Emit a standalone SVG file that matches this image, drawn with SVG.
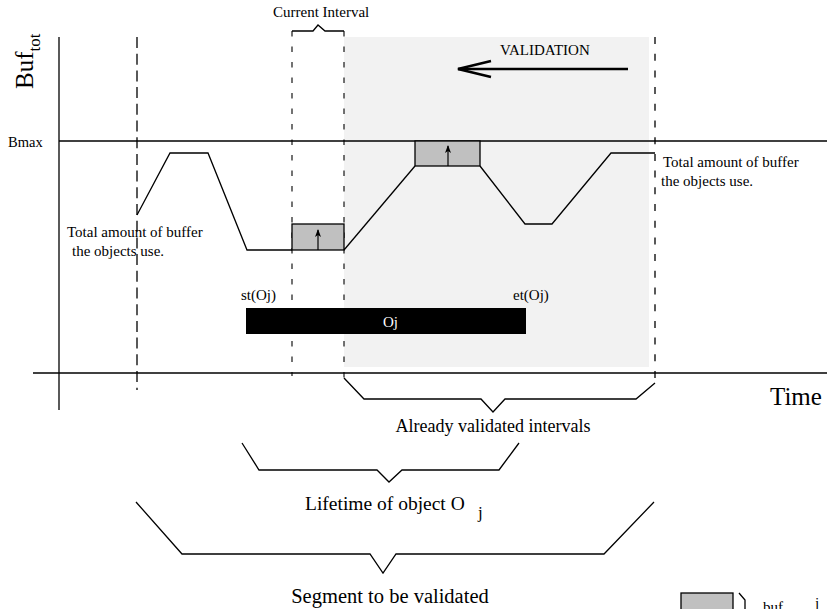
<svg xmlns="http://www.w3.org/2000/svg" width="827" height="609" viewBox="0 0 827 609">
<style>
.ln{stroke:#000;stroke-width:1.3;fill:none}
.d1{stroke:#000;stroke-width:1.3;fill:none;stroke-dasharray:11 5.7}
.d2{stroke:#000;stroke-width:1.1;fill:none;stroke-dasharray:5.5 10}
.d3{stroke:#000;stroke-width:1.3;fill:none;stroke-dasharray:7 9.7}
.box{fill:#c0c0c0;stroke:#000;stroke-width:1.3}
text{font-family:"Liberation Serif","Times New Roman",serif;fill:#000}
.t15{font-size:15px}
</style>
<defs>
<marker id="ah" viewBox="0 0 8 10" refX="7" refY="5" markerWidth="8" markerHeight="10" markerUnits="userSpaceOnUse" orient="auto">
<path d="M0,2 L8,5 L0,8 L2,5 Z" fill="#000"/>
</marker>
</defs>
<g id="validated-region">
<rect x="344" y="37" width="305" height="330" fill="#f2f2f2"/>
</g>
<g id="axes">
<line class="ln" x1="59" y1="37" x2="59" y2="410"/>
<line class="ln" x1="33" y1="373" x2="827" y2="373"/>
<line class="ln" x1="59" y1="141" x2="827" y2="141"/>
<text x="8" y="147" style="font-size:14.5px">Bmax</text>
<text transform="translate(33,89) rotate(-90)" style="font-size:25px">Buf<tspan dy="7" style="font-size:17px">tot</tspan></text>
<text x="770" y="405" style="font-size:25px">Time</text>
</g>
<g id="intervals">
<line class="d1" x1="137" y1="37" x2="137" y2="390"/>
<line class="d2" x1="292" y1="31" x2="292" y2="376"/>
<line class="d2" x1="344" y1="31" x2="344" y2="378"/>
<line class="d3" x1="655" y1="37" x2="655" y2="383"/>
</g>
<g id="current-interval">
<polyline class="ln" points="292,31 313,31 318,25 325,31 344,31"/>
<text class="t15" x="273" y="17">Current Interval</text>
</g>
<g id="validation-arrow">
<line x1="628" y1="69" x2="458" y2="69" stroke="#000" stroke-width="2.6"/>
<polyline points="491,61 458,69 491,77" fill="none" stroke="#000" stroke-width="2.6"/>
<text class="t15" x="500" y="55">VALIDATION</text>
</g>
<g id="buffer-curve">
<polyline class="ln" points="137,215 170,153 208,153 247,250 292,250"/>
<rect id="buf-box-1" class="box" x="292" y="224" width="52" height="26"/>
<line x1="318" y1="250" x2="318" y2="230" stroke="#000" stroke-width="1.2" marker-end="url(#ah)"/>
<polyline class="ln" points="344,250 415,166"/>
<rect id="buf-box-2" class="box" x="415" y="141" width="65" height="25"/>
<line x1="448" y1="166" x2="448" y2="146" stroke="#000" stroke-width="1.2" marker-end="url(#ah)"/>
<polyline class="ln" points="480,166 525,224 552,224 611,153 655,153"/>
</g>
<g id="labels-buffer">
<text class="t15" x="67" y="237">Total amount of buffer</text>
<text class="t15" x="72" y="256">the objects use.</text>
<text class="t15" x="663" y="167">Total amount of buffer</text>
<text class="t15" x="661" y="186">the objects use.</text>
</g>
<g id="object-oj">
<rect x="246" y="308" width="280" height="26" fill="#000"/>
<text class="t15" x="390.5" y="327" text-anchor="middle" style="fill:#fff">Oj</text>
<text class="t15" x="241" y="300">st(Oj)</text>
<text class="t15" x="513" y="300">et(Oj)</text>
</g>
<g id="connectors">
<polyline class="ln" points="344,378 364,399 481,399 493,412 505,399 636,399 655,383"/>
<polyline class="ln" points="242,443 259,470 377,470 389,482 402,470 499,470 519,443"/>
<polyline class="ln" points="136,502 182,554 370,554 383,573 396,554 604,554 654,502"/>
</g>
<g id="bracket-labels">
<text x="493" y="432" text-anchor="middle" style="font-size:18px">Already validated intervals</text>
<text x="305" y="510" style="font-size:19.5px">Lifetime of object O<tspan x="478" y="518" style="font-size:17px">j</tspan></text>
<text x="390" y="603" text-anchor="middle" style="font-size:20.5px">Segment to be validated</text>
</g>
<g id="legend">
<rect class="box" x="681" y="593" width="52" height="20"/>
<path class="ln" d="M739,593 L745,600 L745,612"/>
<text class="t15" x="763" y="612">buf<tspan dy="4" style="font-size:11px">i</tspan></text>
<text class="t15" x="815" y="608">j</text>
</g>
</svg>
